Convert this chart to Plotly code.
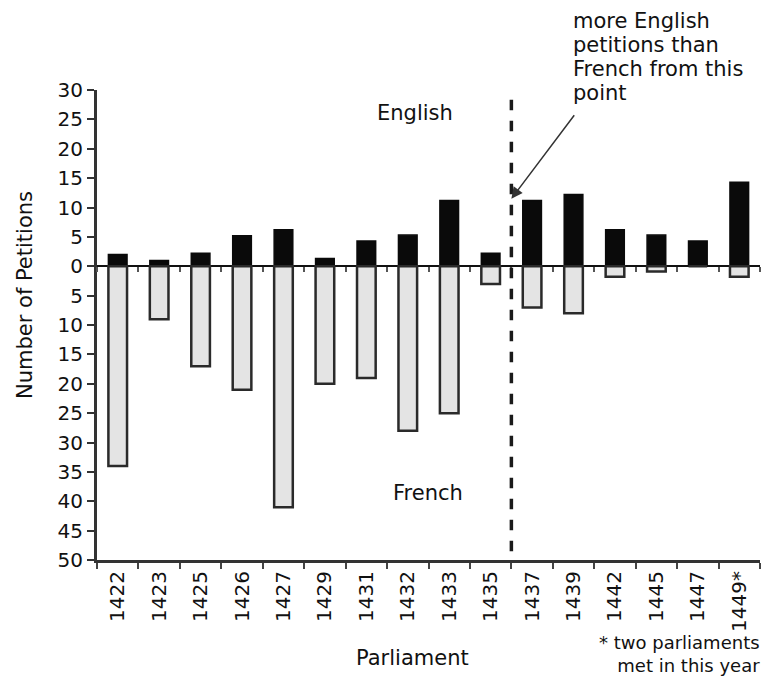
import plotly.graph_objects as go

parliaments = ["1422", "1423", "1425", "1426", "1427", "1429", "1431", "1432",
               "1433", "1435", "1437", "1439", "1442", "1445", "1447", "1449*"]
english = [2, 1, 2.2, 5.2, 6.2, 1.3, 4.3, 5.3, 11.2, 2.2, 11.2, 12.2, 6.2, 5.3, 4.3, 14.3]
french = [34, 9, 17, 21, 41, 20, 19, 28, 25, 3, 7, 8, 1.8, 0.9, 0, 1.8]
y_ticks = list(range(-50, 31, 5))
y_ticktext = [str(abs(v)) for v in y_ticks]

FONT = "'DejaVu Sans', sans-serif"
TXT = 21

# figure is drawn at page offset (8, 8); plot area in page pixels
OFF = 8
W, H = 753, 669
PL, PR, PT, PB = 97, 760, 90, 560


def px(xp):
    return (xp - PL) / (PR - PL)


def py(yp):
    return (PB - yp) / (PB - PT)


fig = go.Figure()
fig.add_trace(go.Bar(
    x=parliaments, y=english, name="English", width=0.45,
    marker=dict(color="#0a0a0a", line=dict(color="#0a0a0a", width=1.5)),
))
fig.add_trace(go.Bar(
    x=parliaments, y=[-v for v in french], name="French", width=0.45,
    marker=dict(color="#e4e4e4", line=dict(color="#2a2a2a", width=2.5)),
))
# invisible trace carrying the tick marks along the zero line
fig.add_trace(go.Scatter(x=parliaments, y=[None] * len(parliaments), xaxis="x2",
                         yaxis="y", showlegend=False, hoverinfo="skip"))

fig.update_layout(
    width=W, height=H,
    margin=dict(l=PL - OFF, r=W - (PR - OFF), t=PT - OFF, b=H - (PB - OFF)),
    paper_bgcolor="white", plot_bgcolor="white",
    barmode="overlay", showlegend=False,
    font=dict(family=FONT, size=20, color="#111111"),
    xaxis=dict(
        type="category", showline=True, linewidth=3, linecolor="#333333",
        ticks="outside", tickson="boundaries", ticklen=6, tickwidth=2, tickcolor="#444444",
        tickangle=-90, tickfont=dict(size=20), showgrid=False, zeroline=False,
        range=[-0.5, 15.5],
    ),
    xaxis2=dict(
        type="category", overlaying="x", anchor="free", position=50 / 80,
        side="bottom", showline=False, ticks="outside", tickson="boundaries",
        ticklen=5, tickwidth=2, tickcolor="#555555", showticklabels=False,
        showgrid=False, zeroline=False, range=[-0.5, 15.5],
        categoryarray=parliaments, categoryorder="array",
    ),
    yaxis=dict(
        range=[-50, 30], tickvals=y_ticks, ticktext=y_ticktext,
        showline=True, linewidth=3, linecolor="#333333",
        ticks="outside", ticklen=7, tickwidth=2, tickcolor="#333333",
        showgrid=False, zeroline=True, zerolinecolor="#111111", zerolinewidth=2,
        tickfont=dict(size=20),
    ),
)

# dashed divider between 1435 and 1437
fig.add_shape(type="line", xref="x", yref="y", x0=9.5, x1=9.5, y0=-48.5, y1=30,
              line=dict(color="#1a1a1a", width=3.5, dash="dash"))


def label(xp, yp, text, size=TXT, xanchor="center", yanchor="middle", angle=0,
          align="center"):
    fig.add_annotation(x=px(xp), y=py(yp), xref="paper", yref="paper",
                       xanchor=xanchor, yanchor=yanchor, showarrow=False,
                       textangle=angle, text=text, font=dict(size=size),
                       align=align, borderpad=0)


label(415, 113, "English")
label(428, 493, "French")
fig.add_annotation(x=9.5, y=11.5, xref="x", yref="y", text="", showarrow=True,
                   ax=64, ay=-85, arrowhead=2, arrowsize=1.5, arrowwidth=1.5,
                   arrowcolor="#333333")
note_lines = ["more English", "petitions than", "French from this", "point"]
for i, line in enumerate(note_lines):
    label(572, 21 + 24 * i, line, xanchor="left")
label(761, 677, "* two parliaments<br>met in this year", size=18,
      xanchor="right", yanchor="bottom", align="right")
label(412, 658, "Parliament")
label(25, 295, "Number of Petitions", angle=-90)

fig.write_html("out.html")
